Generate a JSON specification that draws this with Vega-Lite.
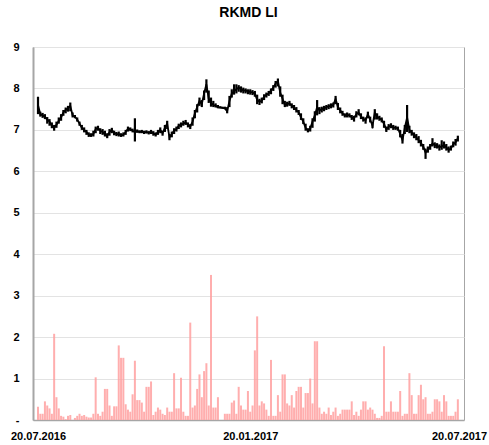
{
  "$schema": "https://vega.github.io/schema/vega-lite/v6.json",
  "width": 431,
  "height": 373,
  "autosize": "none",
  "padding": {"left": 33, "top": 47, "right": 25, "bottom": 25},
  "title": {"text": "RKMD LI", "font": "Liberation Sans", "fontSize": 14, "fontWeight": "bold", "color": "#000", "anchor": "middle", "offset": 21},
  "config": {
    "view": {"stroke": "#a6a6a6", "strokeWidth": 1},
    "axis": {"labelFont": "Liberation Sans", "labelColor": "#000", "labelFontWeight": "bold", "labelFontSize": 11}
  },
  "data": {"values": [
    {"d":"2016-07-20","c":7.6,"lo":7.38,"hi":7.8,"v":0.32},
    {"d":"2016-07-22","c":7.38,"lo":7.32,"hi":7.44,"v":0.15},
    {"d":"2016-07-24","c":7.35,"lo":7.29,"hi":7.41,"v":0.15},
    {"d":"2016-07-26","c":7.32,"lo":7.26,"hi":7.38,"v":0.45},
    {"d":"2016-07-28","c":7.25,"lo":7.15,"hi":7.31,"v":0.35},
    {"d":"2016-07-30","c":7.2,"lo":7.1,"hi":7.26,"v":0.28},
    {"d":"2016-08-01","c":7.1,"lo":7.04,"hi":7.18,"v":0.15},
    {"d":"2016-08-03","c":7.05,"lo":6.98,"hi":7.12,"v":2.08},
    {"d":"2016-08-05","c":7.12,"lo":7.05,"hi":7.2,"v":0.55},
    {"d":"2016-08-07","c":7.22,"lo":7.15,"hi":7.3,"v":0.28},
    {"d":"2016-08-09","c":7.3,"lo":7.22,"hi":7.38,"v":0.1},
    {"d":"2016-08-11","c":7.42,"lo":7.34,"hi":7.48,"v":0.08},
    {"d":"2016-08-13","c":7.48,"lo":7.4,"hi":7.54,"v":0.02},
    {"d":"2016-08-15","c":7.52,"lo":7.44,"hi":7.58,"v":0.1},
    {"d":"2016-08-17","c":7.58,"lo":7.45,"hi":7.66,"v":0.12},
    {"d":"2016-08-19","c":7.35,"lo":7.3,"hi":7.42,"v":0},
    {"d":"2016-08-21","c":7.32,"lo":7.28,"hi":7.36,"v":0.05},
    {"d":"2016-08-23","c":7.25,"lo":7.2,"hi":7.3,"v":0.1},
    {"d":"2016-08-25","c":7.15,"lo":7.1,"hi":7.2,"v":0.15},
    {"d":"2016-08-27","c":7.05,"lo":7.0,"hi":7.12,"v":0.1},
    {"d":"2016-08-29","c":7.0,"lo":6.94,"hi":7.06,"v":0.12},
    {"d":"2016-08-31","c":6.95,"lo":6.88,"hi":7.0,"v":0.08},
    {"d":"2016-09-02","c":6.88,"lo":6.83,"hi":6.94,"v":0.06},
    {"d":"2016-09-04","c":6.87,"lo":6.83,"hi":6.92,"v":0.06},
    {"d":"2016-09-06","c":6.9,"lo":6.84,"hi":6.98,"v":0.15},
    {"d":"2016-09-08","c":7.02,"lo":6.92,"hi":7.08,"v":1.03},
    {"d":"2016-09-10","c":7.05,"lo":6.98,"hi":7.1,"v":0.15},
    {"d":"2016-09-12","c":6.98,"lo":6.9,"hi":7.04,"v":0.1},
    {"d":"2016-09-14","c":6.95,"lo":6.88,"hi":7.02,"v":0.2},
    {"d":"2016-09-16","c":6.9,"lo":6.84,"hi":6.98,"v":0.75},
    {"d":"2016-09-18","c":6.85,"lo":6.8,"hi":6.92,"v":0.75},
    {"d":"2016-09-20","c":6.95,"lo":6.86,"hi":7.02,"v":0.35},
    {"d":"2016-09-22","c":7.0,"lo":6.92,"hi":7.05,"v":0.1},
    {"d":"2016-09-24","c":6.93,"lo":6.87,"hi":6.98,"v":0.33},
    {"d":"2016-09-26","c":6.9,"lo":6.85,"hi":6.95,"v":0.33},
    {"d":"2016-09-28","c":6.9,"lo":6.84,"hi":6.96,"v":1.8},
    {"d":"2016-09-30","c":6.87,"lo":6.83,"hi":6.92,"v":1.5},
    {"d":"2016-10-02","c":6.88,"lo":6.84,"hi":6.94,"v":1.5},
    {"d":"2016-10-04","c":6.95,"lo":6.88,"hi":7.0,"v":0.38},
    {"d":"2016-10-06","c":7.03,"lo":6.96,"hi":7.08,"v":0.25},
    {"d":"2016-10-08","c":7.02,"lo":6.97,"hi":7.06,"v":0.2},
    {"d":"2016-10-10","c":6.98,"lo":6.94,"hi":7.03,"v":0.62},
    {"d":"2016-10-12","c":6.95,"lo":6.72,"hi":7.28,"v":1.43},
    {"d":"2016-10-14","c":6.97,"lo":6.93,"hi":7.01,"v":0.48},
    {"d":"2016-10-16","c":6.95,"lo":6.92,"hi":6.99,"v":0.48},
    {"d":"2016-10-18","c":6.96,"lo":6.92,"hi":7.0,"v":0.42},
    {"d":"2016-10-20","c":6.94,"lo":6.9,"hi":6.98,"v":0.2},
    {"d":"2016-10-22","c":6.95,"lo":6.91,"hi":6.99,"v":0.8},
    {"d":"2016-10-24","c":6.93,"lo":6.89,"hi":6.97,"v":0.8},
    {"d":"2016-10-26","c":6.96,"lo":6.9,"hi":7.0,"v":0.93},
    {"d":"2016-10-28","c":6.92,"lo":6.86,"hi":6.97,"v":0.12},
    {"d":"2016-10-30","c":6.88,"lo":6.84,"hi":6.94,"v":0.2},
    {"d":"2016-11-01","c":6.95,"lo":6.88,"hi":7.0,"v":0.3},
    {"d":"2016-11-03","c":7.0,"lo":6.92,"hi":7.06,"v":0.25},
    {"d":"2016-11-05","c":6.92,"lo":6.86,"hi":6.98,"v":0.15},
    {"d":"2016-11-07","c":7.05,"lo":6.95,"hi":7.12,"v":0.12},
    {"d":"2016-11-09","c":7.15,"lo":7.02,"hi":7.22,"v":0.3},
    {"d":"2016-11-11","c":6.82,"lo":6.75,"hi":6.9,"v":0.2},
    {"d":"2016-11-13","c":6.9,"lo":6.82,"hi":6.96,"v":0.2},
    {"d":"2016-11-15","c":6.98,"lo":6.9,"hi":7.04,"v":1.13},
    {"d":"2016-11-17","c":7.02,"lo":6.96,"hi":7.08,"v":0.28},
    {"d":"2016-11-19","c":7.1,"lo":7.02,"hi":7.15,"v":0.28},
    {"d":"2016-11-21","c":7.12,"lo":7.06,"hi":7.18,"v":1.02},
    {"d":"2016-11-23","c":7.15,"lo":7.1,"hi":7.22,"v":0.2},
    {"d":"2016-11-25","c":7.18,"lo":7.12,"hi":7.24,"v":0.1},
    {"d":"2016-11-27","c":7.12,"lo":7.06,"hi":7.18,"v":0.1},
    {"d":"2016-11-29","c":7.08,"lo":7.02,"hi":7.14,"v":2.35},
    {"d":"2016-12-01","c":7.2,"lo":7.1,"hi":7.3,"v":0.3},
    {"d":"2016-12-03","c":7.4,"lo":7.28,"hi":7.48,"v":0.35},
    {"d":"2016-12-05","c":7.55,"lo":7.42,"hi":7.62,"v":0.75},
    {"d":"2016-12-07","c":7.7,"lo":7.58,"hi":7.78,"v":1.1},
    {"d":"2016-12-09","c":7.62,"lo":7.55,"hi":7.72,"v":0.55},
    {"d":"2016-12-11","c":7.88,"lo":7.72,"hi":7.95,"v":1.18},
    {"d":"2016-12-13","c":8.1,"lo":7.9,"hi":8.22,"v":1.37},
    {"d":"2016-12-15","c":7.75,"lo":7.65,"hi":7.95,"v":0.35},
    {"d":"2016-12-17","c":7.65,"lo":7.56,"hi":7.78,"v":3.5},
    {"d":"2016-12-19","c":7.6,"lo":7.55,"hi":7.7,"v":0.3},
    {"d":"2016-12-21","c":7.58,"lo":7.54,"hi":7.64,"v":0.3},
    {"d":"2016-12-23","c":7.55,"lo":7.52,"hi":7.6,"v":0.55},
    {"d":"2016-12-25","c":7.54,"lo":7.52,"hi":7.57,"v":0},
    {"d":"2016-12-27","c":7.53,"lo":7.51,"hi":7.56,"v":0},
    {"d":"2016-12-29","c":7.52,"lo":7.5,"hi":7.56,"v":0.15},
    {"d":"2016-12-31","c":7.45,"lo":7.4,"hi":7.55,"v":0.15},
    {"d":"2017-01-02","c":7.7,"lo":7.55,"hi":7.82,"v":0.15},
    {"d":"2017-01-04","c":7.88,"lo":7.78,"hi":7.98,"v":0.42},
    {"d":"2017-01-06","c":7.93,"lo":7.85,"hi":8.1,"v":0.47},
    {"d":"2017-01-08","c":7.98,"lo":7.88,"hi":8.1,"v":0.15},
    {"d":"2017-01-10","c":8.02,"lo":7.92,"hi":8.08,"v":0.8},
    {"d":"2017-01-12","c":7.98,"lo":7.9,"hi":8.05,"v":0.35},
    {"d":"2017-01-14","c":7.95,"lo":7.88,"hi":8.02,"v":0.25},
    {"d":"2017-01-16","c":7.95,"lo":7.88,"hi":8.0,"v":0.25},
    {"d":"2017-01-18","c":7.93,"lo":7.86,"hi":7.98,"v":0.7},
    {"d":"2017-01-20","c":7.92,"lo":7.85,"hi":7.98,"v":0.2},
    {"d":"2017-01-22","c":7.9,"lo":7.84,"hi":7.96,"v":0.35},
    {"d":"2017-01-24","c":7.88,"lo":7.8,"hi":7.94,"v":1.68},
    {"d":"2017-01-26","c":7.72,"lo":7.62,"hi":7.85,"v":2.5},
    {"d":"2017-01-28","c":7.68,"lo":7.6,"hi":7.75,"v":0.35},
    {"d":"2017-01-30","c":7.7,"lo":7.64,"hi":7.78,"v":0.45},
    {"d":"2017-02-01","c":7.8,"lo":7.72,"hi":7.86,"v":0.4},
    {"d":"2017-02-03","c":7.85,"lo":7.78,"hi":7.9,"v":0.25},
    {"d":"2017-02-05","c":7.88,"lo":7.82,"hi":7.94,"v":0.1},
    {"d":"2017-02-07","c":7.95,"lo":7.86,"hi":8.0,"v":1.45},
    {"d":"2017-02-09","c":8.02,"lo":7.94,"hi":8.08,"v":0.1},
    {"d":"2017-02-11","c":8.12,"lo":8.02,"hi":8.18,"v":0.1},
    {"d":"2017-02-13","c":8.18,"lo":8.05,"hi":8.24,"v":0.6},
    {"d":"2017-02-15","c":7.9,"lo":7.8,"hi":8.05,"v":0.2},
    {"d":"2017-02-17","c":7.75,"lo":7.62,"hi":7.85,"v":1.1},
    {"d":"2017-02-19","c":7.6,"lo":7.55,"hi":7.7,"v":1.1},
    {"d":"2017-02-21","c":7.62,"lo":7.56,"hi":7.68,"v":0.4},
    {"d":"2017-02-23","c":7.64,"lo":7.58,"hi":7.7,"v":0.35},
    {"d":"2017-02-25","c":7.58,"lo":7.52,"hi":7.64,"v":0.6},
    {"d":"2017-02-27","c":7.54,"lo":7.48,"hi":7.6,"v":0.3},
    {"d":"2017-03-01","c":7.48,"lo":7.42,"hi":7.55,"v":0.7},
    {"d":"2017-03-03","c":7.42,"lo":7.36,"hi":7.48,"v":0.8},
    {"d":"2017-03-05","c":7.3,"lo":7.24,"hi":7.4,"v":0.8},
    {"d":"2017-03-07","c":7.2,"lo":7.14,"hi":7.28,"v":0.3},
    {"d":"2017-03-09","c":7.05,"lo":6.98,"hi":7.15,"v":0.65},
    {"d":"2017-03-11","c":6.98,"lo":6.94,"hi":7.04,"v":0.65},
    {"d":"2017-03-13","c":7.03,"lo":6.96,"hi":7.1,"v":1.0},
    {"d":"2017-03-15","c":7.2,"lo":7.05,"hi":7.28,"v":0.4},
    {"d":"2017-03-17","c":7.35,"lo":7.2,"hi":7.45,"v":1.9},
    {"d":"2017-03-19","c":7.55,"lo":7.35,"hi":7.72,"v":1.9},
    {"d":"2017-03-21","c":7.47,"lo":7.38,"hi":7.55,"v":0.3},
    {"d":"2017-03-23","c":7.5,"lo":7.42,"hi":7.56,"v":0.15},
    {"d":"2017-03-25","c":7.52,"lo":7.45,"hi":7.58,"v":0.2},
    {"d":"2017-03-27","c":7.55,"lo":7.48,"hi":7.6,"v":0.15},
    {"d":"2017-03-29","c":7.57,"lo":7.5,"hi":7.62,"v":0.3},
    {"d":"2017-03-31","c":7.58,"lo":7.52,"hi":7.64,"v":0.12},
    {"d":"2017-04-02","c":7.6,"lo":7.54,"hi":7.66,"v":0.2},
    {"d":"2017-04-04","c":7.75,"lo":7.62,"hi":7.82,"v":0.3},
    {"d":"2017-04-06","c":7.55,"lo":7.48,"hi":7.65,"v":0.1},
    {"d":"2017-04-08","c":7.47,"lo":7.4,"hi":7.54,"v":0.15},
    {"d":"2017-04-10","c":7.4,"lo":7.34,"hi":7.46,"v":0.25},
    {"d":"2017-04-12","c":7.35,"lo":7.3,"hi":7.4,"v":0.25},
    {"d":"2017-04-14","c":7.36,"lo":7.3,"hi":7.42,"v":0.25},
    {"d":"2017-04-16","c":7.35,"lo":7.3,"hi":7.4,"v":0.25},
    {"d":"2017-04-18","c":7.3,"lo":7.24,"hi":7.36,"v":0.45},
    {"d":"2017-04-20","c":7.28,"lo":7.2,"hi":7.34,"v":0.12},
    {"d":"2017-04-22","c":7.38,"lo":7.3,"hi":7.45,"v":0.2},
    {"d":"2017-04-24","c":7.42,"lo":7.35,"hi":7.5,"v":0.1},
    {"d":"2017-04-26","c":7.32,"lo":7.26,"hi":7.4,"v":0.25},
    {"d":"2017-04-28","c":7.27,"lo":7.2,"hi":7.32,"v":0.45},
    {"d":"2017-04-30","c":7.23,"lo":7.15,"hi":7.3,"v":0.45},
    {"d":"2017-05-02","c":7.38,"lo":7.28,"hi":7.44,"v":0.25},
    {"d":"2017-05-04","c":7.25,"lo":7.18,"hi":7.32,"v":0.3},
    {"d":"2017-05-06","c":7.1,"lo":7.04,"hi":7.18,"v":0.25},
    {"d":"2017-05-08","c":7.42,"lo":7.25,"hi":7.5,"v":0.15},
    {"d":"2017-05-10","c":7.32,"lo":7.25,"hi":7.4,"v":0.05},
    {"d":"2017-05-12","c":7.28,"lo":7.22,"hi":7.34,"v":0.05},
    {"d":"2017-05-14","c":7.24,"lo":7.18,"hi":7.3,"v":0.1},
    {"d":"2017-05-16","c":7.15,"lo":7.05,"hi":7.22,"v":1.78},
    {"d":"2017-05-18","c":7.0,"lo":6.95,"hi":7.08,"v":0.2},
    {"d":"2017-05-20","c":7.08,"lo":7.0,"hi":7.14,"v":0.2},
    {"d":"2017-05-22","c":7.1,"lo":7.04,"hi":7.16,"v":0.45},
    {"d":"2017-05-24","c":7.06,"lo":7.0,"hi":7.12,"v":0.2},
    {"d":"2017-05-26","c":7.05,"lo":7.0,"hi":7.1,"v":0.2},
    {"d":"2017-05-28","c":7.04,"lo":6.98,"hi":7.08,"v":0.2},
    {"d":"2017-05-30","c":6.9,"lo":6.82,"hi":7.0,"v":0.7},
    {"d":"2017-06-01","c":6.75,"lo":6.67,"hi":6.9,"v":0.1},
    {"d":"2017-06-03","c":7.05,"lo":6.9,"hi":7.12,"v":0.15},
    {"d":"2017-06-05","c":7.3,"lo":6.95,"hi":7.6,"v":0.15},
    {"d":"2017-06-07","c":7.0,"lo":6.92,"hi":7.1,"v":1.13},
    {"d":"2017-06-09","c":6.93,"lo":6.86,"hi":7.0,"v":0.6},
    {"d":"2017-06-11","c":6.88,"lo":6.8,"hi":6.94,"v":0.15},
    {"d":"2017-06-13","c":6.82,"lo":6.75,"hi":6.9,"v":0.15},
    {"d":"2017-06-15","c":6.75,"lo":6.68,"hi":6.85,"v":0.6},
    {"d":"2017-06-17","c":6.68,"lo":6.6,"hi":6.76,"v":0.85},
    {"d":"2017-06-19","c":6.6,"lo":6.52,"hi":6.66,"v":0.5},
    {"d":"2017-06-21","c":6.45,"lo":6.3,"hi":6.55,"v":0.55},
    {"d":"2017-06-23","c":6.52,"lo":6.45,"hi":6.6,"v":0.15},
    {"d":"2017-06-25","c":6.6,"lo":6.52,"hi":6.66,"v":0.15},
    {"d":"2017-06-27","c":6.67,"lo":6.6,"hi":6.8,"v":0.2},
    {"d":"2017-06-29","c":6.63,"lo":6.56,"hi":6.7,"v":0.5},
    {"d":"2017-07-01","c":6.62,"lo":6.55,"hi":6.68,"v":0.5},
    {"d":"2017-07-03","c":6.58,"lo":6.5,"hi":6.65,"v":0.45},
    {"d":"2017-07-05","c":6.6,"lo":6.52,"hi":6.75,"v":0.2},
    {"d":"2017-07-07","c":6.64,"lo":6.55,"hi":6.72,"v":0.6},
    {"d":"2017-07-09","c":6.58,"lo":6.5,"hi":6.66,"v":0.45},
    {"d":"2017-07-11","c":6.52,"lo":6.45,"hi":6.6,"v":0.1},
    {"d":"2017-07-13","c":6.55,"lo":6.5,"hi":6.62,"v":0.1},
    {"d":"2017-07-15","c":6.65,"lo":6.58,"hi":6.72,"v":0.1},
    {"d":"2017-07-17","c":6.7,"lo":6.62,"hi":6.78,"v":0.2},
    {"d":"2017-07-19","c":6.8,"lo":6.72,"hi":6.86,"v":0.5}
  ]},
  "encoding": {
    "x": {
      "field": "d", "type": "temporal", "title": null,
      "scale": {"type": "utc", "domain": [{"year": 2016, "month": 7, "date": 20, "utc": true}, {"year": 2017, "month": 7, "date": 20, "utc": true}]},
      "axis": {
        "values": [{"year": 2016, "month": 7, "date": 20, "utc": true}, {"year": 2017, "month": 1, "date": 20, "utc": true}, {"year": 2017, "month": 7, "date": 20, "utc": true}],
        "labelExpr": "utcFormat(datum.value, '%d.%m.%Y')", "grid": false, "ticks": false,
        "domainColor": "#a6a6a6", "domainWidth": 1.5, "labelPadding": 10,
        "labelFlush": false, "labelOverlap": false, "labelBound": false
      }
    }
  },
  "layer": [
    {
      "mark": {"type": "bar", "color": "#ffa0a0", "opacity": 0.85, "size": 2},
      "encoding": {
        "y": {
          "field": "v", "type": "quantitative", "title": null,
          "scale": {"domain": [0, 9], "nice": false, "zero": true},
          "axis": {
            "values": [0, 1, 2, 3, 4, 5, 6, 7, 8, 9], "labelExpr": "datum.value == 0 ? '-' : datum.label",
            "grid": true, "gridColor": "#e3e3e3", "ticks": false,
            "domainColor": "#a6a6a6", "domainWidth": 2, "labelPadding": 14
          }
        }
      }
    },
    {
      "mark": {"type": "rule", "color": "#000", "strokeWidth": 2.2},
      "encoding": {
        "y": {"field": "lo", "type": "quantitative"},
        "y2": {"field": "hi"}
      }
    },
    {
      "mark": {"type": "line", "color": "#000", "strokeWidth": 1.8},
      "encoding": {
        "y": {"field": "c", "type": "quantitative"}
      }
    }
  ]
}
